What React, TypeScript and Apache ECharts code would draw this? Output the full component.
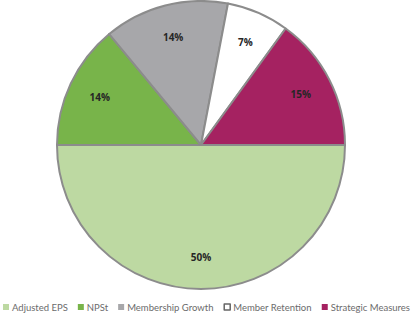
import React, { useEffect, useRef } from "react";
import * as echarts from "echarts";

const categories = ["Adjusted EPS", "NPSt", "Membership Growth", "Member Retention", "Strategic Measures"];
const values = [50, 14, 14, 7, 15];
const colors = ["#bdd9a2", "#78b44a", "#a7a7aa", "#ffffff", "#a52261"];

export default function App() {
  const ref = useRef<HTMLDivElement>(null);
  useEffect(() => {
    const chart = echarts.init(ref.current!, undefined, { renderer: "svg" });
    const data = categories.map((name, i) => ({ name, value: values[i], itemStyle: { color: colors[i] } }));
    chart.setOption({
      animation: false,
      legend: {
        top: 302,
        left: 3,
        width: 800,
        padding: 0,
        itemWidth: 6,
        itemHeight: 6,
        itemGap: 10,
        icon: "rect",
        textStyle: { fontFamily: "Lato", fontSize: 9.5, color: "#6b6b6b", padding: [0, 0, 0, -2] },
        data: categories.map((name, i) => ({
          name,
          itemStyle: i === 3 ? { borderColor: "#666", borderWidth: 1.5, color: "#fff" } : { borderWidth: 0 },
        })),
      },
      series: [
        {
          type: "pie",
          center: [201, 145],
          radius: [0, 144],
          startAngle: 0,
          clockwise: true,
          data,
          label: { show: false },
          labelLine: { show: false },
          itemStyle: { borderColor: "#8c8c8c", borderWidth: 2 },
          emphasis: { disabled: true },
        },
        {
          type: "pie",
          center: [201, 145],
          radius: [74, 144],
          startAngle: 0,
          clockwise: true,
          silent: true,
          data: categories.map((name, i) => ({ name, value: values[i] })),
          itemStyle: { color: "rgba(0,0,0,0)", borderWidth: 0 },
          label: {
            show: true,
            position: "inside",
            formatter: "{c}%",
            fontFamily: "Open Sans",
            fontWeight: "bold",
            fontSize: 10,
            color: "#262626",
          },
          labelLine: { show: false },
          emphasis: { disabled: true },
          legendHoverLink: false,
        },
      ],
    });
    return () => chart.dispose();
  }, []);
  return <div ref={ref} style={{ width: 416, height: 314, position: "absolute", left: 0, top: 0 }} />;
}
